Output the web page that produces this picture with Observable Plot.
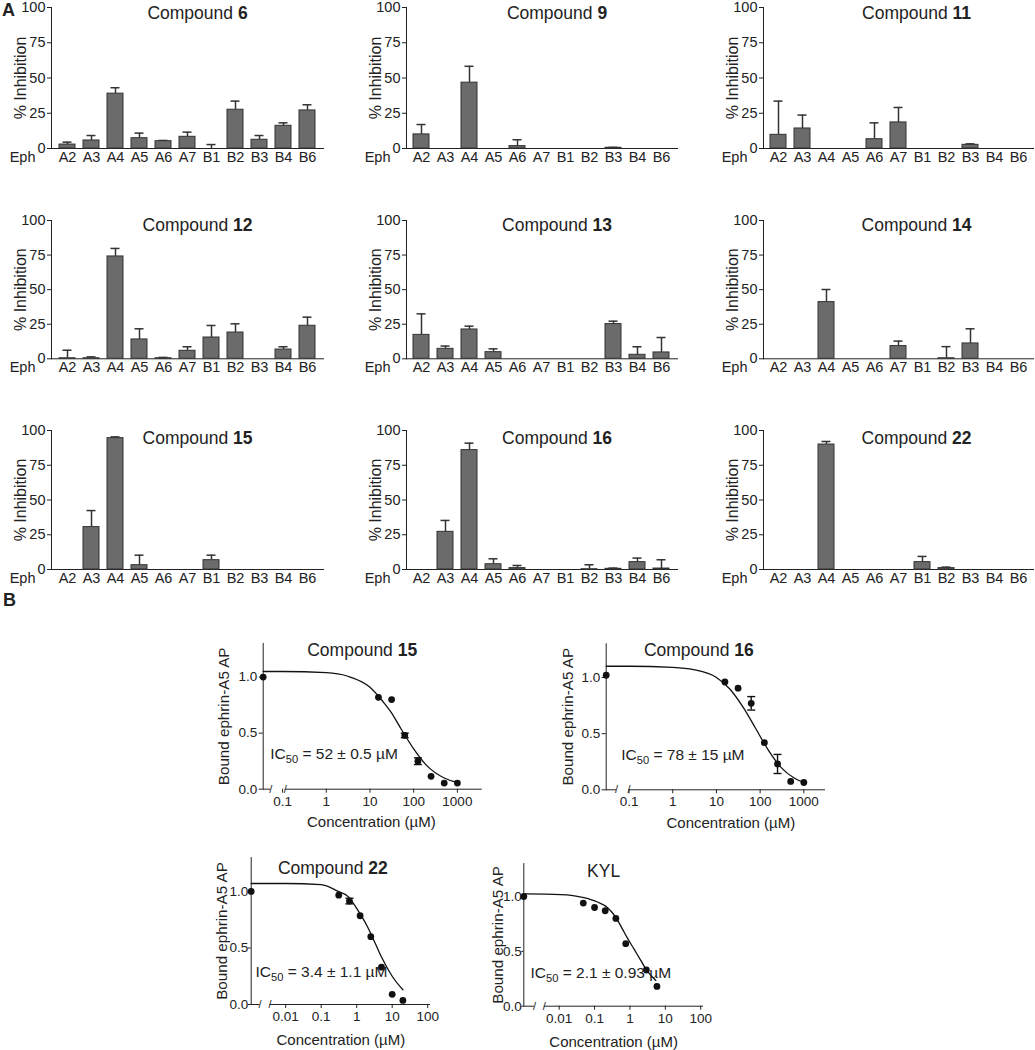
<!DOCTYPE html>
<html><head><meta charset="utf-8">
<script src="https://cdn.jsdelivr.net/npm/d3@7"></script>
<script src="https://cdn.jsdelivr.net/npm/@observablehq/plot@0.6"></script>
<style>
body{margin:0;background:#fff;}
#fig{position:relative;width:1035px;height:1050px;overflow:hidden;background:#fff;font-family:"Liberation Sans",Arial,Helvetica,sans-serif;color:#222;}
.panel{position:absolute;}
.panel svg{overflow:visible;}
.plab{position:absolute;font-weight:bold;font-size:18px;line-height:1;}
</style></head><body><div id="fig"></div>
<script>
// ---------- Data: panel A (% inhibition of ephrin binding) ----------
const receptors = ["A2","A3","A4","A5","A6","A7","B1","B2","B3","B4","B6"];
const inhibition6  = [2.8, 5.7, 38.9, 7.3, 5.2, 8.3, 0, 27.5, 6.2, 16.1, 27.0];
const sem6         = [1.7, 3.5, 4.2, 3.6, 0.5, 3.3, 2.8, 6.1, 3.0, 2.1, 4.0];
const inhibition9  = [10, 0, 46.7, 0, 1.7, 0, 0, 0, 0.5, 0, 0];
const sem9         = [7, 0, 11.6, 0, 4.5, 0, 0, 0, 0.3, 0, 0];
const inhibition11 = [9.7, 14.2, 0, 0, 6.6, 18.5, 0, 0, 2.6, 0, 0];
const sem11        = [23.9, 9.5, 0, 0, 11.6, 10.6, 0, 0, 0.7, 0, 0];
const inhibition12 = [0.4, 0.4, 74, 14, 0.4, 5.8, 15.4, 19, 0, 6.7, 23.9];
const sem12        = [5.8, 1.0, 5.8, 7.7, 0.6, 2.9, 8.7, 6.3, 0, 2.0, 6.2];
const inhibition13 = [17.3, 7.2, 21.2, 4.8, 0, 0, 0, 0, 25.1, 2.9, 4.6];
const sem13        = [15.2, 2.0, 2.4, 2.4, 0, 0, 0, 0, 2.1, 5.8, 10.8];
const inhibition14 = [0, 0, 41, 0, 0, 9.2, 0, 0.4, 11.1, 0, 0];
const sem14        = [0, 0, 9.1, 0, 0, 3.6, 0, 8.4, 10.6, 0, 0];
const inhibition15 = [0, 30.5, 94.5, 3.1, 0, 0, 6.7, 0, 0, 0, 0];
const sem15        = [0, 11.9, 0.9, 7.2, 0, 0, 3.6, 0, 0, 0, 0];
const inhibition16 = [0, 27.1, 85.9, 3.8, 1.0, 0, 0, 0.2, 0.5, 5.3, 0.7];
const sem16        = [0, 8.2, 5.0, 3.9, 1.9, 0, 0, 3.2, 0.5, 2.9, 6.3];
const inhibition22 = [0, 0, 89.9, 0, 0, 0, 5.3, 1.0, 0, 0, 0];
const sem22        = [0, 0, 2.2, 0, 0, 0, 4.1, 0.7, 0, 0, 0];
const inhibitionTicks = [0, 25, 50, 75, 100];

// ---------- Data: panel B (dose response) ----------
const conc15 = [0.036, 15.625, 31.25, 62.5, 125, 250, 500, 1000];
const bound15 = [1.0, 0.82, 0.80, 0.48, 0.25, 0.115, 0.055, 0.055];
const err15 = [0, 0, 0, 0.02, 0.03, 0, 0, 0];
const fitX15 = [0.036, 0.1, 1, 3, 10, 20, 30, 52, 100, 200, 500, 1000];
const fitY15 = [1.05, 1.05, 1.04, 1.01, 0.91, 0.78, 0.69, 0.535, 0.36, 0.21, 0.10, 0.06];

const conc16 = [0.030, 15.625, 31.25, 62.5, 125, 250, 500, 1000];
const bound16 = [1.02, 0.96, 0.905, 0.77, 0.42, 0.23, 0.075, 0.065];
const err16 = [0, 0, 0, 0.06, 0, 0.085, 0, 0];
const fitX16 = [0.030, 0.1, 1, 3, 10, 20, 40, 78, 150, 300, 600, 1000];
const fitY16 = [1.10, 1.10, 1.09, 1.07, 1.0, 0.90, 0.74, 0.55, 0.36, 0.20, 0.105, 0.065];

const conc22 = [0.00107, 0.3125, 0.625, 1.25, 2.5, 5, 10, 20];
const bound22 = [1.0, 0.967, 0.915, 0.785, 0.60, 0.33, 0.09, 0.036];
const err22 = [0, 0, 0.025, 0, 0, 0, 0, 0];
const fitX22 = [0.00107, 0.01, 0.1, 0.3, 0.6, 1, 2, 3.4, 5, 10, 20];
const fitY22 = [1.07, 1.07, 1.06, 1.0, 0.95, 0.85, 0.69, 0.535, 0.42, 0.25, 0.13];

const concKYL = [0.001, 0.048, 0.1, 0.2, 0.4, 0.76, 2.9, 5.8];
const boundKYL = [1.0, 0.94, 0.90, 0.87, 0.80, 0.57, 0.33, 0.18];
const errKYL = [0, 0, 0, 0, 0, 0, 0, 0];
const fitXKYL = [0.001, 0.011, 0.05, 0.12, 0.23, 0.40, 0.61, 0.85, 1.31, 2.0, 3.1, 5.4];
const fitYKYL = [1.024, 1.018, 0.99, 0.95, 0.90, 0.81, 0.705, 0.62, 0.52, 0.42, 0.32, 0.235];

const ticksHigh = [0.1, 1, 10, 100, 1000];
const ticksLow = [0.01, 0.1, 1, 10, 100];
const boundTicks = [0, 0.5, 1.0];

// ---------- helpers ----------
const FONT = '"Liberation Sans", Arial, Helvetica, sans-serif';
const NS = "http://www.w3.org/2000/svg";
const fig = document.getElementById("fig");
function place(node, left, top, w) {
  const d = document.createElement("div");
  d.className = "panel";
  d.style.left = left + "px"; d.style.top = top + "px"; d.style.width = w + "px";
  d.appendChild(node); fig.appendChild(d);
}
function boldTail(svg, prefix, tail) {
  for (const t of svg.querySelectorAll("text")) {
    if (t.textContent === prefix + tail) {
      t.textContent = "";
      const a = document.createElementNS(NS, "tspan"); a.textContent = prefix; a.setAttribute("style","white-space:pre");
      const b = document.createElementNS(NS, "tspan"); b.textContent = tail; b.setAttribute("font-weight","bold");
      t.appendChild(a); t.appendChild(b);
    }
  }
}
function icText(svg, full, sub, rest) {
  for (const t of svg.querySelectorAll("text")) {
    if (t.textContent === full) {
      t.textContent = "";
      const a = document.createElementNS(NS, "tspan"); a.textContent = "IC";
      const b = document.createElementNS(NS, "tspan"); b.textContent = sub; b.setAttribute("font-size","72%"); b.setAttribute("dy","0.32em");
      const c = document.createElementNS(NS, "tspan"); c.textContent = rest; c.setAttribute("dy","-0.23em"); c.setAttribute("style","white-space:pre");
      t.appendChild(a); t.appendChild(b); t.appendChild(c);
    }
  }
}

// ---------- panel A ----------
function barPanel(num, vals, errs, left, top, ml, mr, mt, mb, titleDx, titleDy) {
  const data = receptors.map((r, i) => ({r, v: vals[i], e: errs[i]}));
  const title = "Compound " + num;
  const svg = Plot.plot({
    width: 345, height: 175,
    marginLeft: ml, marginRight: mr, marginTop: mt, marginBottom: mb,
    style: {fontFamily: FONT, fontSize: "14.5px", color: "#222", background: "transparent", overflow: "visible"},
    x: {domain: receptors, paddingInner: 0.32, paddingOuter: 0.24, label: null, tickSize: 0, tickPadding: 3, line: true},
    y: {domain: [0, 100], ticks: inhibitionTicks, label: null, tickSize: 4, tickPadding: 2, line: true},
    marks: [
      Plot.ruleX(data.filter(d => d.e > 0), {x: "r", y1: "v", y2: d => d.v + d.e, stroke: "#333", strokeWidth: 1.5}),
      Plot.tickY(data.filter(d => d.e > 0), {x: "r", y: d => d.v + d.e, stroke: "#333", strokeWidth: 1.5, insetLeft: 3.5, insetRight: 3.5}),
      Plot.barY(data.filter(d => d.v > 0), {x: "r", y: "v", fill: "#6b6b6b", stroke: "#333", strokeWidth: 1}),
      Plot.text([title], {text: d => d, frameAnchor: "top", lineAnchor: "middle", dx: titleDx, dy: titleDy, fontSize: 17.5}),
      Plot.text(["% Inhibition"], {text: d => d, frameAnchor: "left", rotate: -90, textAnchor: "middle", lineAnchor: "middle", dx: -31, fontSize: 16}),
      Plot.text(["Eph"], {text: d => d, frameAnchor: "bottom-left", textAnchor: "end", lineAnchor: "top", dx: -16, dy: 3, fontSize: 14.5})
    ]
  });
  boldTail(svg, "Compound ", num);
  place(svg, left, top, 345);
}

const colL = [0, 345, 690], colML = [51, 61, 73], colMR = [22, 13, 2], colTitleDx = [10, 15, 18];
const rowT = [0, 205, 415], rowMT = [7, 15, 15], rowMB = [27, 21.7, 21], rowTitleDy = [5.5, 5, 8];
const panelsA = [
  ["6", inhibition6, sem6], ["9", inhibition9, sem9], ["11", inhibition11, sem11],
  ["12", inhibition12, sem12], ["13", inhibition13, sem13], ["14", inhibition14, sem14],
  ["15", inhibition15, sem15], ["16", inhibition16, sem16], ["22", inhibition22, sem22]
];
panelsA.forEach(([num, v, e], i) => {
  const c = i % 3, r = Math.floor(i / 3);
  barPanel(num, v, e, colL[c], rowT[r], colML[c], colMR[c], rowMT[r], rowMB[r], colTitleDx[c], rowTitleDy[r]);
});

// ---------- panel B ----------
function dosePanel(o) {
  const pts = o.conc.map((c, i) => ({c, r: o.resp[i], e: o.err[i]}));
  const fit = o.fitX.map((c, i) => ({c, r: o.fitY[i]}));
  const axisSegs = [{a: o.xDomain[0], b: o.breaks[0]}, {a: o.breaks[1], b: o.xDomain[1]}];
  const capF = Math.pow(10, 4 / o.pxPerDecade);
  const ebars = pts.filter(d => d.e > 0);
  const svg = Plot.plot({
    width: o.width, height: o.height,
    marginLeft: o.ml, marginRight: o.mr, marginTop: o.mt, marginBottom: o.mb,
    style: {fontFamily: FONT, fontSize: "13.5px", color: "#222", background: "transparent", overflow: "visible"},
    x: {type: "log", domain: o.xDomain, ticks: o.xTicks, tickFormat: d => String(d), tickSize: 4, tickPadding: 3, label: null},
    y: {domain: [0, 1.3], ticks: boundTicks, tickFormat: d3.format(".1f"), tickSize: o.yTickSize, tickPadding: o.yTickPad, label: null, line: true},
    marks: [
      Plot.ruleY(axisSegs, {y: 0, x1: "a", x2: "b", stroke: "#222", strokeWidth: 1}),
      Plot.text(o.breaks, {x: d => d, y: 0, text: () => "/", fontSize: 11, lineAnchor: "middle"}),
      Plot.line(fit, {x: "c", y: "r", curve: "monotone-x", stroke: "#111", strokeWidth: 1.3}),
      Plot.ruleX(ebars, {x: "c", y1: d => d.r - d.e, y2: d => d.r + d.e, stroke: "#111", strokeWidth: 1.4}),
      Plot.link(ebars, {x1: d => d.c / capF, x2: d => d.c * capF, y1: d => d.r + d.e, y2: d => d.r + d.e, stroke: "#111", strokeWidth: 1.4}),
      Plot.link(ebars, {x1: d => d.c / capF, x2: d => d.c * capF, y1: d => d.r - d.e, y2: d => d.r - d.e, stroke: "#111", strokeWidth: 1.4}),
      Plot.dot(pts, {x: "c", y: "r", r: 3.4, fill: "#111"}),
      Plot.text([o.title], {text: d => d, frameAnchor: "top", lineAnchor: "middle", dx: o.titleDx, dy: o.titleDy, fontSize: 17.5}),
      Plot.text(["Bound ephrin-A5 AP"], {text: d => d, frameAnchor: "left", rotate: -90, textAnchor: "middle", lineAnchor: "middle", dx: o.ylabDx, fontSize: 15.2}),
      Plot.text(["Concentration (µM)"], {text: d => d, frameAnchor: "bottom", lineAnchor: "middle", dx: o.xlabDx, dy: o.xlabDy, fontSize: 15}),
      Plot.text([o.ic], {text: d => d, frameAnchor: "bottom-left", textAnchor: "start", lineAnchor: "middle", dx: o.icDx, dy: o.icDy, fontSize: 15.5})
    ]
  });
  if (o.bold) boldTail(svg, "Compound ", o.bold);
  icText(svg, o.ic, "50", o.icRest);
  place(svg, o.left, o.top, o.width);
}

dosePanel({title: "Compound 15", bold: "15", conc: conc15, resp: bound15, err: err15, fitX: fitX15, fitY: fitY15,
  xDomain: [0.036, 3700], xTicks: ticksHigh, breaks: [0.054, 0.115], pxPerDecade: 43.75,
  left: 200, top: 628, width: 300, height: 210, ml: 62.7, mr: 18.3, mt: 15, mb: 49.3, yTickSize: 4, yTickPad: 2,
  titleDx: -10.5, titleDy: 7, ylabDx: -38.7, xlabDx: -1.4, xlabDy: 33,
  ic: "IC50 = 52 ± 0.5 µM", icRest: " = 52 ± 0.5 µM", icDx: 7, icDy: -34.7});
dosePanel({title: "Compound 16", bold: "16", conc: conc16, resp: bound16, err: err16, fitX: fitX16, fitY: fitY16,
  xDomain: [0.030, 3130], xTicks: ticksHigh, breaks: [0.052, 0.1], pxPerDecade: 43.75,
  left: 543, top: 628, width: 300, height: 210, ml: 62.7, mr: 18, mt: 15.3, mb: 48.7, yTickSize: 4, yTickPad: 2,
  titleDx: -17, titleDy: 7, ylabDx: -38, xlabDx: 15, xlabDy: 33,
  ic: "IC50 = 78 ± 15 µM", icRest: " = 78 ± 15 µM", icDx: 15, icDy: -34.3});
dosePanel({title: "Compound 22", bold: "22", conc: conc22, resp: bound22, err: err22, fitX: fitX22, fitY: fitY22,
  xDomain: [0.00107, 120], xTicks: ticksLow, breaks: [0.0019, 0.0036], pxPerDecade: 35.3,
  left: 190, top: 845, width: 260, height: 205, ml: 60.7, mr: 20, mt: 12, mb: 46, yTickSize: 3, yTickPad: 0,
  titleDx: -8, titleDy: 11, ylabDx: -29, xlabDx: 0, xlabDy: 36,
  ic: "IC50 = 3.4 ± 1.1 µM", icRest: " = 3.4 ± 1.1 µM", icDx: 4.3, icDy: -32.3});
dosePanel({title: "KYL", bold: null, conc: concKYL, resp: boundKYL, err: errKYL, fitX: fitXKYL, fitY: fitYKYL,
  xDomain: [0.001, 120], xTicks: ticksLow, breaks: [0.002, 0.0038], pxPerDecade: 35.3,
  left: 463, top: 845, width: 260, height: 205, ml: 60.3, mr: 20, mt: 18.1, mb: 44.3, yTickSize: 2, yTickPad: 0,
  titleDx: -10, titleDy: 8, ylabDx: -26, xlabDx: 0, xlabDy: 36,
  ic: "IC50 = 2.1 ± 0.93 µM", icRest: " = 2.1 ± 0.93 µM", icDx: 6.7, icDy: -33});

// panel letters
[["A", 2, 1], ["B", 3, 591]].forEach(([t, x, y]) => {
  const d = document.createElement("div"); d.className = "plab"; d.textContent = t;
  d.style.left = x + "px"; d.style.top = y + "px"; fig.appendChild(d);
});
</script></body></html>
